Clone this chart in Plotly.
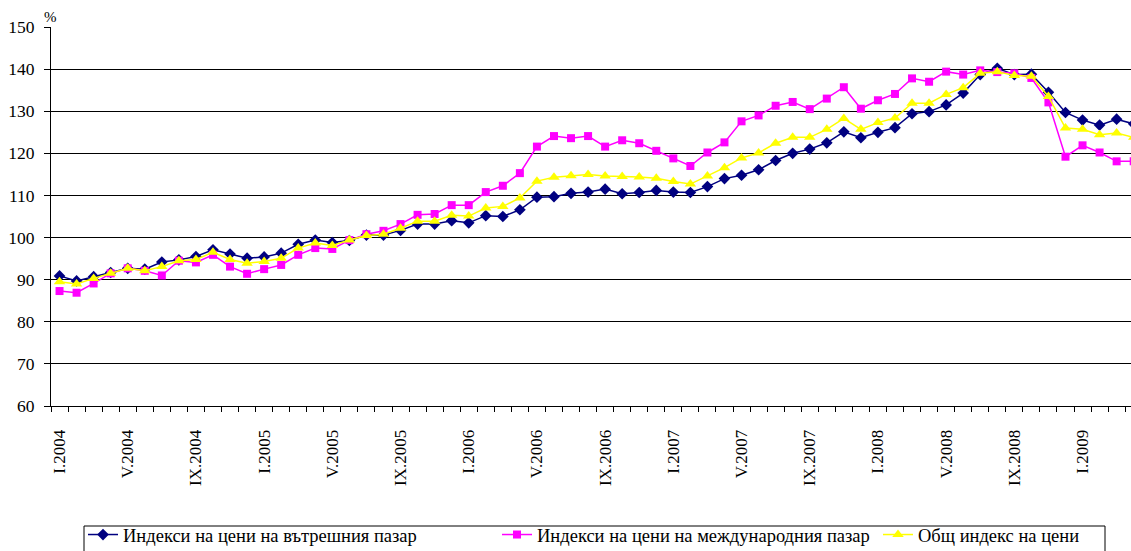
import plotly.graph_objects as go

roman = ["I", "II", "III", "IV", "V", "VI", "VII", "VIII", "IX", "X", "XI", "XII"]
months = [f"{roman[m]}.{y}" for y in range(2004, 2010) for m in range(12)][:64]

domestic = [90.9, 89.7, 90.7, 91.7, 92.7, 92.5, 94.2, 94.7, 95.5, 97.1, 96.1, 95.1,
            95.4, 96.3, 98.4, 99.4, 98.8, 99.3, 100.6, 100.6, 101.7,
            103.2, 103.2, 104.0, 103.5, 105.2, 105.0, 106.6, 109.6, 109.7, 110.5, 110.8,
            111.5, 110.4, 110.7, 111.2, 110.8, 110.7, 112.1, 114.0, 114.8, 116.1,
            118.3, 120.0, 121.0, 122.5, 125.1, 123.7, 125.0, 126.1, 129.4, 129.9, 131.5,
            134.3, 138.7, 140.2, 138.7, 138.8, 134.5, 129.7, 127.9, 126.7, 128.1, 127.0]

international = [87.3, 86.9, 89.1, 91.5, 92.7, 92.1, 91.0, 94.5, 94.1, 95.9, 93.1, 91.4,
                 92.5, 93.5, 95.9, 97.5, 97.3, 99.4, 100.8, 101.6, 103.2,
                 105.4, 105.6, 107.7, 107.7, 110.8, 112.3, 115.3, 121.6, 124.1, 123.6, 124.1,
                 121.6, 123.1, 122.4, 120.6, 118.8, 117.0, 120.2, 122.6, 127.6, 129.0,
                 131.3, 132.2, 130.5, 133.0, 135.7, 130.6, 132.6, 134.1, 137.8, 137.0, 139.4,
                 138.7, 139.7, 139.3, 139.0, 137.9, 132.1, 119.2, 121.9, 120.2, 118.1, 118.1]

total = [89.5, 89.0, 90.3, 91.5, 92.7, 92.1, 93.1, 94.5, 94.8, 96.5, 94.8, 93.9,
         94.3, 95.1, 97.5, 98.7, 98.1, 99.4, 100.5, 100.8, 102.2,
         103.9, 103.9, 105.3, 105.1, 107.0, 107.4, 109.4, 113.4, 114.3, 114.7, 115.0,
         114.6, 114.5, 114.4, 114.1, 113.3, 112.7, 114.6, 116.6, 118.9, 120.1,
         122.4, 123.8, 123.8, 125.7, 128.3, 125.7, 127.3, 128.4, 131.9, 131.9, 134.0,
         135.6, 139.0, 139.4, 138.5, 138.3, 133.5, 126.0, 125.7, 124.4, 124.8, 123.8]

names = ["Индекси на цени на вътрешния пазар",
         "Индекси на цени на международния пазар",
         "Общ индекс на цени"]

tick_text = [m if i % 4 == 0 else "" for i, m in enumerate(months)]

FONT = "Liberation Serif"

fig = go.Figure()
fig.add_trace(go.Scatter(x=months, y=domestic, name=names[0], mode="lines+markers",
                         line=dict(color="#000080", width=1.5),
                         marker=dict(symbol="diamond", size=9, color="#000080"),
                         legend="legend"))
fig.add_trace(go.Scatter(x=months, y=international, name=names[1], mode="lines+markers",
                         line=dict(color="#FF00FF", width=1.5),
                         marker=dict(symbol="square", size=8, color="#FF00FF"),
                         legend="legend2"))
fig.add_trace(go.Scatter(x=months, y=total, name=names[2], mode="lines+markers",
                         line=dict(color="#FFFF00", width=1.5),
                         marker=dict(symbol="triangle-up", size=10, color="#FFFF00"),
                         legend="legend3"))

W, H = 1131, 551
L, R, T, B = 51, 0, 27, 145
pw, ph = W - L - R, H - T - B


def px(x):
    return (x - L) / pw


def py(y):
    return (H - B - y) / ph


def cx(x):
    return x / W


def cy(y):
    return 1 - y / H


leg_common = dict(orientation="h", xanchor="left", yanchor="middle",
                  xref="container", yref="container",
                  font=dict(family=FONT, size=18.5, color="black"),
                  bgcolor="rgba(0,0,0,0)", borderwidth=0)

fig.update_layout(
    width=W, height=H,
    margin=dict(l=L, r=R, t=T, b=B, autoexpand=False),
    paper_bgcolor="white", plot_bgcolor="white",
    font=dict(family=FONT, size=17, color="black"),
    showlegend=True,
    legend=dict(x=cx(83), y=cy(535), **leg_common),
    legend2=dict(x=cx(497), y=cy(535), **leg_common),
    legend3=dict(x=cx(878), y=cy(535), **leg_common),
    xaxis=dict(type="category", categoryorder="array", categoryarray=months,
               range=[-0.5, -0.5 + pw / 17.05], automargin=False,
               tickmode="array", tickvals=months, ticktext=tick_text,
               tickson="boundaries", ticks="outside", ticklen=5, tickcolor="black",
               tickangle=-90, ticklabelstandoff=16,
               showline=True, linecolor="black", linewidth=1,
               showgrid=False, zeroline=False,
               tickfont=dict(family=FONT, size=17, color="black")),
    yaxis=dict(range=[60, 150], tick0=60, dtick=10, automargin=False,
               ticks="outside", ticklen=6, tickcolor="black",
               showline=True, linecolor="black", linewidth=1,
               showgrid=True, gridcolor="black", gridwidth=1,
               zeroline=False, ticklabelstandoff=6,
               tickfont=dict(family=FONT, size=17.5, color="black")),
    shapes=[dict(type="rect", xref="paper", yref="paper",
                 x0=px(84), x1=px(1105), y0=py(526), y1=py(600),
                 line=dict(color="black", width=1), fillcolor="rgba(0,0,0,0)")],
    annotations=[dict(text="%", xref="paper", yref="paper", x=px(50), y=py(17),
                      xanchor="center", yanchor="middle", showarrow=False,
                      font=dict(family=FONT, size=15, color="black"))],
)

fig.write_html("out.html", config={"displayModeBar": False},
               post_script="document.body.style.margin='0';")
